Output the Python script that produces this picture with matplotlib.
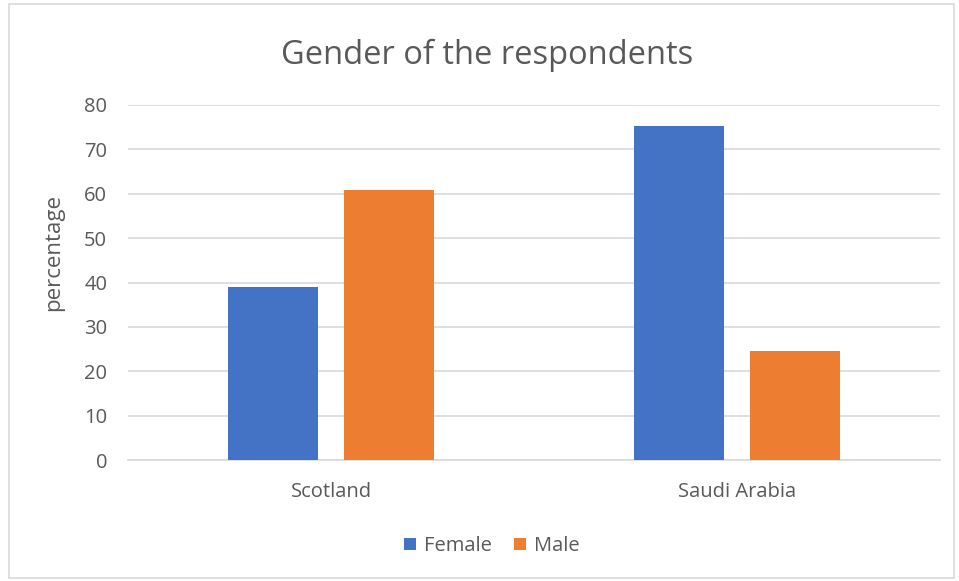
import numpy as np
import matplotlib.pyplot as plt
from matplotlib.patches import Rectangle

plt.rcParams['font.family'] = ['Open Sans', 'DejaVu Sans']

countries = ['Scotland', 'Saudi Arabia']
female = [39.0, 75.3]
male = [60.8, 24.6]
yticks = [0, 10, 20, 30, 40, 50, 60, 70, 80]

text_col = '#595959'
grid_col = '#d9d9d9'
blue = '#4472c4'
orange = '#ed7d31'

fig = plt.figure(figsize=(9.59, 5.81), dpi=100)
# outer chart frame
fig.patches.append(Rectangle((9 / 959, 3 / 581), 945 / 959, 574 / 581,
                             transform=fig.transFigure, fill=False,
                             edgecolor='#d9d9d9', linewidth=1.2))

ax = fig.add_axes([128 / 959, 1 - 460 / 581, 812 / 959, 355 / 581])

x = np.arange(len(countries))
w = 0.222
off = 0.142
ax.bar(x - off, female, width=w, color=blue, label='Female', zorder=3)
ax.bar(x + off, male, width=w, color=orange, label='Male', zorder=3)

ax.set_xlim(-0.5, 1.5)
ax.set_ylim(0, 80)
ax.set_yticks(yticks)
ax.set_xticks(x)
ax.set_xticklabels(countries)
ax.tick_params(axis='both', length=0, colors=text_col, labelsize=14.5)
ax.tick_params(axis='y', pad=15)
ax.tick_params(axis='x', pad=16)
ax.grid(axis='y', color=grid_col, linewidth=1.2, zorder=0)
for s in ['top', 'right', 'left']:
    ax.spines[s].set_visible(False)
ax.spines['bottom'].set_color(grid_col)
ax.spines['bottom'].set_linewidth(1.2)

fig.text(54 / 959, 1 - 253 / 581, 'percentage', rotation=90,
         ha='center', va='center', color=text_col, fontsize=16)
fig.text(487 / 959, 1 - 55 / 581, 'Gender of the respondents',
         ha='center', va='center', color=text_col, fontsize=23.5)

fig.legend(loc='center', bbox_to_anchor=(492 / 959, 1 - 546 / 581),
           ncol=2, frameon=False, fontsize=14.5, labelcolor=text_col,
           handlelength=0.6, handleheight=0.6, handletextpad=0.4,
           columnspacing=1.1)

fig.savefig('out.png', dpi=100)
